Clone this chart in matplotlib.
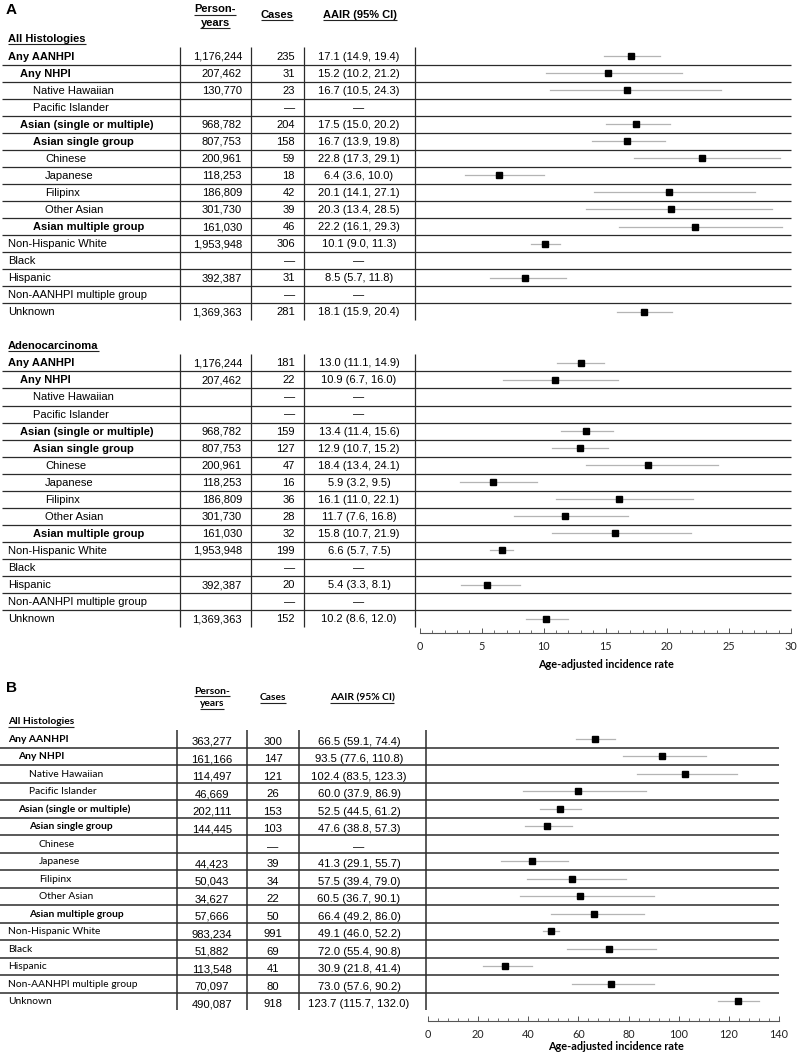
import matplotlib.pyplot as plt
from matplotlib.ticker import MultipleLocator

W, H = 798, 1053

# Row labels shared by all tables
groups = ["Any AANHPI", "Any NHPI", "Native Hawaiian", "Pacific Islander",
          "Asian (single or multiple)", "Asian single group", "Chinese", "Japanese",
          "Filipinx", "Other Asian", "Asian multiple group", "Non-Hispanic White",
          "Black", "Hispanic", "Non-AANHPI multiple group", "Unknown"]
levels = [0, 1, 2, 2, 1, 2, 3, 3, 3, 3, 2, 0, 0, 0, 0, 0]
bold_rows = [1, 1, 0, 0, 1, 1, 0, 0, 0, 0, 1, 0, 0, 0, 0, 0]

# Panel A - all histologies
a_all_py = [1176244, 207462, 130770, None, 968782, 807753, 200961, 118253, 186809,
            301730, 161030, 1953948, None, 392387, None, 1369363]
a_all_cases = [235, 31, 23, None, 204, 158, 59, 18, 42, 39, 46, 306, None, 31, None, 281]
a_all_rate = [17.1, 15.2, 16.7, None, 17.5, 16.7, 22.8, 6.4, 20.1, 20.3, 22.2, 10.1, None, 8.5, None, 18.1]
a_all_lo = [14.9, 10.2, 10.5, None, 15.0, 13.9, 17.3, 3.6, 14.1, 13.4, 16.1, 9.0, None, 5.7, None, 15.9]
a_all_hi = [19.4, 21.2, 24.3, None, 20.2, 19.8, 29.1, 10.0, 27.1, 28.5, 29.3, 11.3, None, 11.8, None, 20.4]

# Panel A - adenocarcinoma
a_ad_py = [1176244, 207462, None, None, 968782, 807753, 200961, 118253, 186809,
           301730, 161030, 1953948, None, 392387, None, 1369363]
a_ad_cases = [181, 22, None, None, 159, 127, 47, 16, 36, 28, 32, 199, None, 20, None, 152]
a_ad_rate = [13.0, 10.9, None, None, 13.4, 12.9, 18.4, 5.9, 16.1, 11.7, 15.8, 6.6, None, 5.4, None, 10.2]
a_ad_lo = [11.1, 6.7, None, None, 11.4, 10.7, 13.4, 3.2, 11.0, 7.6, 10.7, 5.7, None, 3.3, None, 8.6]
a_ad_hi = [14.9, 16.0, None, None, 15.6, 15.2, 24.1, 9.5, 22.1, 16.8, 21.9, 7.5, None, 8.1, None, 12.0]

# Panel B - all histologies
b_py = [363277, 161166, 114497, 46669, 202111, 144445, None, 44423, 50043, 34627,
        57666, 983234, 51882, 113548, 70097, 490087]
b_cases = [300, 147, 121, 26, 153, 103, None, 39, 34, 22, 50, 991, 69, 41, 80, 918]
b_rate = [66.5, 93.5, 102.4, 60.0, 52.5, 47.6, None, 41.3, 57.5, 60.5, 66.4, 49.1, 72.0, 30.9, 73.0, 123.7]
b_lo = [59.1, 77.6, 83.5, 37.9, 44.5, 38.8, None, 29.1, 39.4, 36.7, 49.2, 46.0, 55.4, 21.8, 57.6, 115.7]
b_hi = [74.4, 110.8, 123.3, 86.9, 61.2, 57.3, None, 55.7, 79.0, 90.1, 86.0, 52.2, 90.8, 41.4, 90.2, 132.0]

ARIAL = "Liberation Sans"
CALIBRI = "Lato"
LINE = "#2b2b2b"

fig = plt.figure(figsize=(W / 100, H / 100), dpi=100)
tab = fig.add_axes([0, 0, 1, 1])
tab.set_xlim(0, W)
tab.set_ylim(H, 0)
tab.axis("off")


def px_axes(x0, y0, x1, y1):
    a = fig.add_axes([x0 / W, 1 - y1 / H, (x1 - x0) / W, (y1 - y0) / H])
    a.patch.set_alpha(0)
    return a


underlined = []


def fmt_ci(r, lo, hi):
    if r is None:
        return "\u2014"
    return f"{r:.1f} ({lo:.1f}, {hi:.1f})"


def draw_block(row0, y_of, step, py, cases, rate, lo, hi, cfg):
    n = len(groups)
    for i in range(n):
        y = y_of(row0 + i)
        tab.text(cfg["x_lab"] + cfg["indent"] * levels[i], y + cfg["dy_lab"], groups[i],
                 family=cfg["lab_font"], fontsize=cfg["lab_fs"],
                 fontweight="bold" if bold_rows[i] else "normal", va="center", ha="left")
        if py[i] is not None:
            tab.text(cfg["x_py"], y + cfg["dy_num"], f"{py[i]:,}", family=ARIAL,
                     fontsize=cfg["num_fs"], va="center", ha=cfg["ha_py"])
        tab.text(cfg["x_cases"], y + cfg["dy_num"],
                 str(cases[i]) if cases[i] is not None else "\u2014",
                 family=ARIAL, fontsize=cfg["num_fs"], va="center", ha=cfg["ha_cases"])
        tab.text(cfg["x_ci"], y + cfg["dy_num"], fmt_ci(rate[i], lo[i], hi[i]),
                 family=ARIAL, fontsize=cfg["num_fs"], va="center", ha="center")
        if i < n - 1:
            tab.plot([cfg["line_x0"], cfg["line_x1"]], [y + step / 2] * 2,
                     color=LINE, lw=cfg["lw"], solid_capstyle="butt")
    top = y_of(row0) - step / 2
    bot = y_of(row0 + n - 1) + step / 2
    for xv in cfg["vlines"]:
        tab.plot([xv, xv], [top, bot], color=LINE, lw=cfg["lw"], solid_capstyle="butt")


def forest(ax, rows, rate, lo, hi):
    for r, m, l, h in zip(rows, rate, lo, hi):
        if m is None:
            continue
        ax.plot([l, h], [r, r], color="#b4b4b4", lw=0.9, zorder=2)
        ax.plot(m, r, "s", color="black", ms=3.8, zorder=3)


def style_axis(ax, major, minor, label_x, label_y):
    for s in ["top", "left", "right"]:
        ax.spines[s].set_visible(False)
    ax.spines["bottom"].set_color("#555555")
    ax.spines["bottom"].set_linewidth(0.8)
    ax.set_yticks([])
    ax.xaxis.set_major_locator(MultipleLocator(major))
    ax.xaxis.set_minor_locator(MultipleLocator(minor))
    ax.tick_params(axis="x", which="major", direction="in", length=3.5, width=0.7,
                   color="#555555", pad=6, labelsize=7.8, labelcolor="#222222")
    ax.tick_params(axis="x", which="minor", direction="in", length=2.5, width=0.6,
                   color="#555555")
    for t in ax.get_xticklabels():
        t.set_family(CALIBRI)
    ax.set_xlabel("Age-adjusted incidence rate", family=CALIBRI, fontweight="bold",
                  fontsize=7.8, va="center")
    ax.xaxis.set_label_coords(label_x, label_y)


# ---------------- Panel A ----------------
A_Y0, A_STEP = 56.0, 17.05


def ya(i):
    return A_Y0 + A_STEP * i


cfg_a = dict(x_lab=8, indent=12.3, dy_lab=0.5, lab_font=ARIAL, lab_fs=8.0, num_fs=8.0,
             dy_num=0.5, x_py=242, ha_py="right", x_cases=295, ha_cases="right", x_ci=359,
             line_x0=2, line_x1=791, lw=0.9, vlines=[180, 250.5, 304, 415])

tab.text(6, 10, "A", family=ARIAL, fontsize=11, fontweight="bold", va="center")
for txt, x, y in [("Person-", 215, 9.5), ("years", 215, 22.5), ("Cases", 277, 15),
                  ("AAIR (95% CI)", 360, 15)]:
    underlined.append(tab.text(x, y, txt, family=ARIAL, fontsize=8.0, fontweight="bold",
                               ha="center", va="center"))
underlined.append(tab.text(8, ya(-1), "All Histologies", family=ARIAL, fontsize=8.0,
                           fontweight="bold", va="center"))
underlined.append(tab.text(8, ya(17), "Adenocarcinoma", family=ARIAL, fontsize=8.0,
                           fontweight="bold", va="center"))

draw_block(0, ya, A_STEP, a_all_py, a_all_cases, a_all_rate, a_all_lo, a_all_hi, cfg_a)
draw_block(18, ya, A_STEP, a_ad_py, a_ad_cases, a_ad_rate, a_ad_lo, a_ad_hi, cfg_a)

A_TOP, A_BOT = 40, 633
axA = px_axes(420, A_TOP, 791, A_BOT)
axA.set_xlim(0, 30)
axA.set_ylim((A_BOT - A_Y0) / A_STEP, (A_TOP - A_Y0) / A_STEP)
rows_all = list(range(len(groups)))
rows_ad = [18 + i for i in range(len(groups))]
forest(axA, rows_all, a_all_rate, a_all_lo, a_all_hi)
forest(axA, rows_ad, a_ad_rate, a_ad_lo, a_ad_hi)
style_axis(axA, 5, 1, 0.5, (A_BOT - 664) / (A_BOT - A_TOP))

# ---------------- Panel B ----------------
B_Y0, B_STEP = 738.8, 17.5


def yb(i):
    return B_Y0 + B_STEP * i


cfg_b = dict(x_lab=8, indent=10.3, dy_lab=0.5, lab_font=CALIBRI, lab_fs=7.4, num_fs=8.1,
             dy_num=3.0, x_py=212, ha_py="center", x_cases=273, ha_cases="center", x_ci=359,
             line_x0=0, line_x1=779, lw=1.1, vlines=[177, 247, 299, 426])

tab.text(6, 688, "B", family=ARIAL, fontsize=11, fontweight="bold", va="center")
for txt, x, y in [("Person-", 212, 691), ("years", 212, 704), ("Cases", 273, 698),
                  ("AAIR (95% CI)", 362, 698)]:
    underlined.append(tab.text(x, y, txt, family=CALIBRI, fontsize=7.4, fontweight="bold",
                               ha="center", va="center"))
underlined.append(tab.text(8, 722, "All Histologies", family=CALIBRI, fontsize=7.4,
                           fontweight="bold", va="center"))

draw_block(0, yb, B_STEP, b_py, b_cases, b_rate, b_lo, b_hi, cfg_b)

B_TOP, B_BOT = 725, 1021
axB = px_axes(428, B_TOP, 779, B_BOT)
axB.set_xlim(0, 140)
axB.set_ylim((B_BOT - B_Y0) / B_STEP, (B_TOP - B_Y0) / B_STEP)
forest(axB, rows_all, b_rate, b_lo, b_hi)
style_axis(axB, 20, 4, 0.536, (B_BOT - 1047) / (B_BOT - B_TOP))

# underline the header texts
fig.canvas.draw()
for t in underlined:
    bb = t.get_window_extent()
    yl = H - bb.y0 + 0.2
    tab.plot([bb.x0, bb.x1], [yl, yl], color="#222222", lw=0.8, solid_capstyle="butt")

fig.savefig("out.png", dpi=100)
